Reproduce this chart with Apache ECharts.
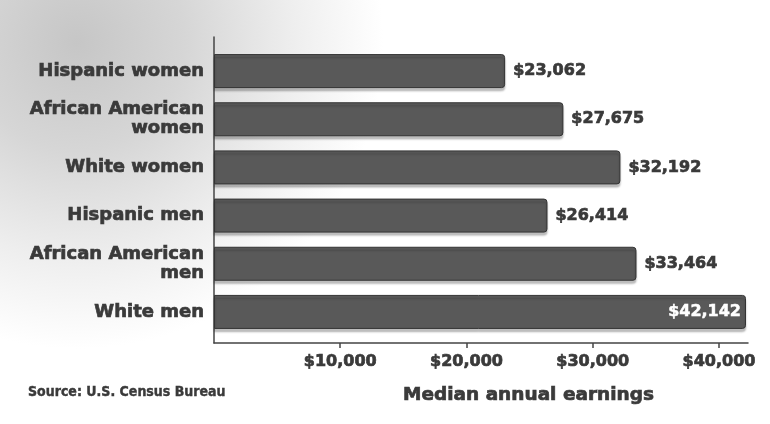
<!DOCTYPE html>
<html>
<head>
<meta charset="utf-8">
<script src="https://cdn.jsdelivr.net/npm/echarts@6/dist/echarts.min.js"></script>
<style>
  html, body { margin: 0; padding: 0; background: #fff; }
  #chart { width: 770px; height: 424px; }
</style>
</head>
<body>
<div id="chart"></div>
<script>
// Median annual earnings by group
const categories = [
  'Hispanic women',
  'African American\nwomen',
  'White women',
  'Hispanic men',
  'African American\nmen',
  'White men'
];
const earnings = [23062, 27675, 32192, 26414, 33464, 42142];
const tickValues = [10000, 20000, 30000, 40000];
const axisTitle = 'Median annual earnings';
const sourceNote = 'Source: U.S. Census Bureau';

const FONT = '"DejaVu Sans", sans-serif';
const INK = '#3a3a3a';
const X_MAX = 42300;

// heavier strokes for the bold display type
const heavy = { textBorderColor: INK, textBorderWidth: 0.7 };

const money = v => '$' + v.toLocaleString('en-US');

const chart = echarts.init(document.getElementById('chart'), null, { renderer: 'canvas' });

chart.setOption({
  animation: false,
  backgroundColor: {
    type: 'radial', x: 0.1, y: 0.1, r: 0.85,
    colorStops: [
      { offset: 0, color: '#c6c6c6' },
      { offset: 0.3, color: '#d6d6d6' },
      { offset: 0.6, color: '#eeeeee' },
      { offset: 0.85, color: '#ffffff' },
      { offset: 1, color: '#ffffff' }
    ]
  },
  title: [
    {
      text: axisTitle, left: 403, top: 386, padding: 0,
      textStyle: Object.assign({ fontFamily: FONT, fontSize: 18.5, fontWeight: 'bold', color: INK }, heavy)
    },
    {
      text: sourceNote, left: 28, top: 385, padding: 0,
      textStyle: Object.assign({ fontFamily: '"DejaVu Sans Condensed", ' + FONT, fontSize: 14, fontWeight: 'bold', color: INK }, heavy, { textBorderWidth: 0.4 })
    }
  ],
  grid: [
    // frame carrying the axis lines
    { left: 214, top: 37, width: 534, height: 306, containLabel: false },
    // plotting area for the bars
    { left: 214, top: 47, width: 534, height: 289, containLabel: false }
  ],
  xAxis: [
    {
      gridIndex: 0, type: 'value', min: 0, max: X_MAX,
      axisLine: { show: true, lineStyle: { color: '#444', width: 1.5 } },
      axisTick: { show: true, length: 5, customValues: tickValues, lineStyle: { color: '#444', width: 1.5 } },
      axisLabel: Object.assign({
        customValues: tickValues, margin: 11,
        formatter: v => money(v),
        fontFamily: FONT, fontSize: 16, fontWeight: 'bold', color: INK
      }, heavy),
      splitLine: { show: false }
    },
    {
      gridIndex: 1, type: 'value', min: 0, max: X_MAX, show: false,
      splitLine: { show: false }
    }
  ],
  yAxis: [
    {
      gridIndex: 0, type: 'value', min: 0, max: 1,
      axisLine: { show: true, lineStyle: { color: '#444', width: 1.5 } },
      axisTick: { show: false }, axisLabel: { show: false }, splitLine: { show: false }
    },
    {
      gridIndex: 1, type: 'category', data: categories, inverse: true,
      axisLine: { show: false }, axisTick: { show: false },
      axisLabel: Object.assign({
        margin: 10, align: 'right', lineHeight: 19,
        fontFamily: FONT, fontSize: 18, fontWeight: 'bold', color: INK
      }, heavy)
    }
  ],
  series: [
    {
      type: 'bar', xAxisIndex: 1, yAxisIndex: 1,
      barWidth: 34,
      data: earnings.map((v, i) => {
        const last = i === earnings.length - 1;
        return {
          value: v,
          label: last
            ? { position: 'insideRight', distance: 5, color: '#ffffff', textBorderColor: '#ffffff', textBorderWidth: 0.5 }
            : { position: 'right', distance: 8, color: INK }
        };
      }),
      itemStyle: {
        color: '#595959',
        borderColor: '#333',
        borderWidth: 1,
        borderRadius: [0, 3, 3, 0],
        shadowColor: 'rgba(0,0,0,0.25)',
        shadowOffsetY: 3,
        shadowBlur: 2
      },
      label: Object.assign({
        show: true,
        formatter: p => money(p.value),
        fontFamily: FONT, fontSize: 16, fontWeight: 'bold'
      }, heavy)
    }
  ]
});
</script>
</body>
</html>
